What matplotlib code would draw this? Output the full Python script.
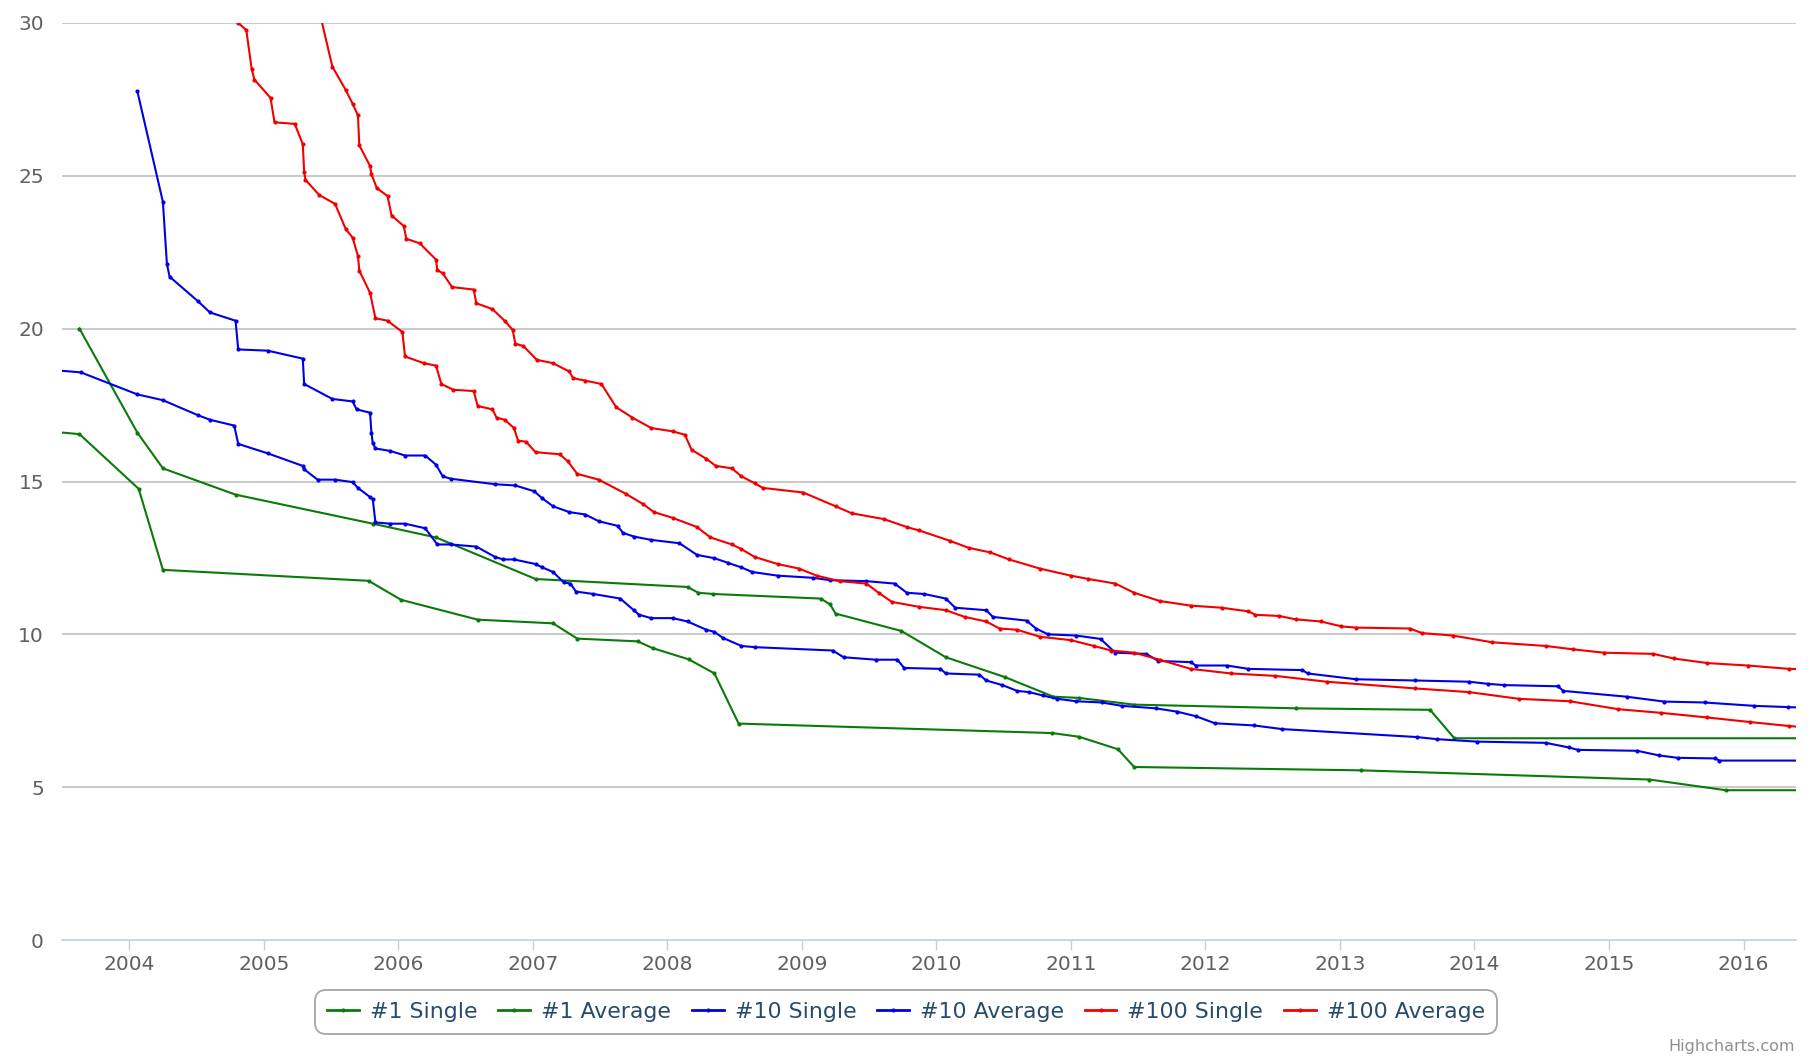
import matplotlib
matplotlib.use("Agg")
import matplotlib.pyplot as plt

# ---------------- data (decimal year, seconds) ----------------
s1_x = [2003.45, 2003.63, 2004.07, 2004.25, 2005.78, 2006.02, 2006.59, 2007.15, 2007.33,
        2007.78, 2007.89, 2008.16, 2008.35, 2008.53, 2010.86, 2011.06, 2011.35, 2011.47,
        2013.16, 2015.30, 2015.87, 2016.45]
s1_y = [16.62, 16.55, 14.76, 12.11, 11.75, 11.13, 10.48, 10.36, 9.86,
        9.77, 9.55, 9.18, 8.72, 7.08, 6.77, 6.65, 6.24, 5.66,
        5.55, 5.25, 4.90, 4.90]

a1_x = [2003.63, 2004.06, 2004.25, 2004.79, 2005.81, 2006.28, 2007.02, 2008.15, 2008.23,
        2008.34, 2009.14, 2009.21, 2009.25, 2009.74, 2010.07, 2010.51, 2010.87, 2011.06,
        2011.47, 2012.67, 2013.67, 2013.85, 2016.45]
a1_y = [20.00, 16.60, 15.43, 14.57, 13.62, 13.17, 11.81, 11.55, 11.36,
        11.32, 11.17, 10.98, 10.68, 10.11, 9.25, 8.60, 7.96, 7.92,
        7.70, 7.58, 7.53, 6.60, 6.60]

s10_x = [2003.45, 2003.64, 2004.06, 2004.25, 2004.51, 2004.60, 2004.78, 2004.81, 2005.03,
         2005.29, 2005.30, 2005.40, 2005.53, 2005.66, 2005.70, 2005.79, 2005.81, 2005.83,
         2005.94, 2006.05, 2006.20, 2006.29, 2006.39, 2006.58, 2006.72, 2006.78, 2006.86,
         2007.02, 2007.07, 2007.15, 2007.23, 2007.28, 2007.32, 2007.45, 2007.65, 2007.75,
         2007.79, 2007.88, 2008.04, 2008.15, 2008.29, 2008.35, 2008.41, 2008.55, 2008.65,
         2009.23, 2009.31, 2009.55, 2009.71, 2009.76, 2010.03, 2010.07, 2010.32, 2010.37,
         2010.49, 2010.60, 2010.69, 2010.79, 2010.90, 2011.04, 2011.23, 2011.38, 2011.63,
         2011.79, 2011.93, 2012.07, 2012.36, 2012.57, 2013.57, 2013.72, 2014.02, 2014.53,
         2014.70, 2014.77, 2015.21, 2015.37, 2015.51, 2015.79, 2015.82, 2016.45]
s10_y = [18.64, 18.57, 17.85, 17.66, 17.17, 17.02, 16.83, 16.23, 15.92,
         15.51, 15.40, 15.06, 15.06, 14.98, 14.79, 14.49, 14.42, 13.66,
         13.62, 13.62, 13.47, 12.94, 12.94, 12.87, 12.53, 12.45, 12.45,
         12.30, 12.19, 12.04, 11.70, 11.66, 11.40, 11.32, 11.17, 10.79,
         10.64, 10.53, 10.53, 10.42, 10.15, 10.08, 9.89, 9.62, 9.58,
         9.47, 9.25, 9.17, 9.17, 8.90, 8.87, 8.72, 8.68, 8.49,
         8.34, 8.15, 8.11, 8.00, 7.89, 7.81, 7.77, 7.66, 7.58,
         7.47, 7.32, 7.09, 7.02, 6.90, 6.64, 6.57, 6.49, 6.45,
         6.30, 6.22, 6.19, 6.04, 5.96, 5.94, 5.87, 5.87]

a10_x = [2004.06, 2004.25, 2004.28, 2004.30, 2004.51, 2004.60, 2004.79, 2004.81, 2005.03,
         2005.29, 2005.30, 2005.51, 2005.66, 2005.69, 2005.79, 2005.80, 2005.81, 2005.83,
         2005.94, 2006.05, 2006.20, 2006.28, 2006.33, 2006.39, 2006.72, 2006.87, 2007.01,
         2007.07, 2007.15, 2007.27, 2007.39, 2007.49, 2007.63, 2007.67, 2007.75, 2007.88,
         2008.09, 2008.22, 2008.35, 2008.45, 2008.55, 2008.63, 2008.82, 2009.08, 2009.21,
         2009.48, 2009.69, 2009.78, 2009.91, 2010.07, 2010.14, 2010.37, 2010.42, 2010.67,
         2010.74, 2010.83, 2011.04, 2011.22, 2011.33, 2011.56, 2011.65, 2011.89, 2011.93,
         2012.16, 2012.32, 2012.72, 2012.76, 2013.12, 2013.56, 2013.96, 2014.10, 2014.22,
         2014.62, 2014.66, 2015.13, 2015.41, 2015.71, 2016.08, 2016.33, 2016.45]
a10_y = [27.77, 24.15, 22.11, 21.70, 20.90, 20.53, 20.26, 19.32, 19.28,
         19.02, 18.19, 17.70, 17.62, 17.36, 17.25, 16.60, 16.26, 16.08,
         16.00, 15.85, 15.85, 15.55, 15.17, 15.09, 14.91, 14.87, 14.68,
         14.45, 14.19, 14.00, 13.92, 13.70, 13.55, 13.32, 13.20, 13.09,
         12.98, 12.60, 12.49, 12.34, 12.19, 12.04, 11.92, 11.85, 11.77,
         11.74, 11.66, 11.36, 11.32, 11.17, 10.87, 10.79, 10.57, 10.45,
         10.19, 10.00, 9.96, 9.85, 9.40, 9.36, 9.13, 9.09, 8.98,
         8.98, 8.87, 8.83, 8.72, 8.53, 8.49, 8.45, 8.38, 8.34,
         8.30, 8.15, 7.96, 7.80, 7.77, 7.66, 7.62, 7.60]

s100_x = [2004.76, 2004.81, 2004.87, 2004.91, 2004.93, 2005.05, 2005.08, 2005.23, 2005.29,
          2005.30, 2005.31, 2005.41, 2005.53, 2005.61, 2005.66, 2005.70, 2005.71, 2005.79,
          2005.83, 2005.92, 2006.03, 2006.05, 2006.19, 2006.28, 2006.32, 2006.41, 2006.56,
          2006.59, 2006.70, 2006.73, 2006.79, 2006.86, 2006.89, 2006.95, 2007.02, 2007.20,
          2007.26, 2007.33, 2007.49, 2007.69, 2007.82, 2007.90, 2008.04, 2008.22, 2008.32,
          2008.48, 2008.55, 2008.65, 2008.82, 2008.98, 2009.11, 2009.28, 2009.48, 2009.57,
          2009.67, 2009.87, 2010.07, 2010.21, 2010.37, 2010.47, 2010.60, 2010.77, 2011.00,
          2011.17, 2011.30, 2011.47, 2011.66, 2011.89, 2012.19, 2012.52, 2012.90, 2013.56,
          2013.96, 2014.33, 2014.71, 2015.07, 2015.39, 2015.73, 2016.05, 2016.34, 2016.45]
s100_y = [30.40, 30.00, 29.77, 28.50, 28.15, 27.55, 26.75, 26.70, 26.04,
          25.13, 24.87, 24.38, 24.08, 23.25, 22.98, 22.38, 21.90, 21.17,
          20.34, 20.26, 19.89, 19.09, 18.87, 18.79, 18.19, 18.00, 17.96,
          17.47, 17.36, 17.09, 17.02, 16.75, 16.34, 16.30, 15.96, 15.89,
          15.66, 15.25, 15.06, 14.60, 14.26, 14.00, 13.81, 13.51, 13.17,
          12.94, 12.79, 12.53, 12.30, 12.15, 11.92, 11.74, 11.66, 11.36,
          11.06, 10.90, 10.79, 10.57, 10.42, 10.19, 10.15, 9.92, 9.81,
          9.62, 9.47, 9.40, 9.17, 8.87, 8.72, 8.64, 8.45, 8.23,
          8.11, 7.89, 7.81, 7.55, 7.43, 7.28, 7.13, 7.00, 6.96]

a100_x = [2005.42, 2005.51, 2005.61, 2005.66, 2005.70, 2005.71, 2005.79, 2005.80, 2005.84,
          2005.92, 2005.95, 2006.04, 2006.06, 2006.16, 2006.28, 2006.29, 2006.33, 2006.40,
          2006.56, 2006.58, 2006.70, 2006.79, 2006.85, 2006.87, 2006.93, 2007.03, 2007.15,
          2007.27, 2007.30, 2007.39, 2007.51, 2007.62, 2007.74, 2007.88, 2008.04, 2008.13,
          2008.18, 2008.29, 2008.36, 2008.48, 2008.55, 2008.65, 2008.71, 2009.01, 2009.25,
          2009.37, 2009.61, 2009.78, 2009.87, 2010.10, 2010.24, 2010.40, 2010.54, 2010.77,
          2011.00, 2011.13, 2011.33, 2011.47, 2011.66, 2011.89, 2012.12, 2012.32, 2012.37,
          2012.55, 2012.67, 2012.86, 2013.01, 2013.12, 2013.52, 2013.61, 2013.84, 2014.13,
          2014.53, 2014.73, 2014.96, 2015.33, 2015.48, 2015.73, 2016.03, 2016.34, 2016.45]
a100_y = [30.25, 28.57, 27.80, 27.36, 26.98, 26.00, 25.32, 25.06, 24.60,
          24.34, 23.70, 23.36, 22.94, 22.79, 22.26, 21.92, 21.81, 21.36,
          21.28, 20.83, 20.64, 20.26, 19.96, 19.51, 19.43, 18.98, 18.87,
          18.60, 18.38, 18.30, 18.19, 17.43, 17.09, 16.75, 16.64, 16.53,
          16.04, 15.74, 15.51, 15.43, 15.17, 14.94, 14.79, 14.64, 14.19,
          13.96, 13.77, 13.51, 13.40, 13.06, 12.83, 12.68, 12.45, 12.15,
          11.92, 11.81, 11.66, 11.36, 11.09, 10.94, 10.87, 10.75, 10.64,
          10.60, 10.49, 10.42, 10.26, 10.22, 10.19, 10.04, 9.96, 9.74,
          9.62, 9.51, 9.40, 9.36, 9.21, 9.06, 8.98, 8.87, 8.86]

series_names = ["#1 Single", "#1 Average", "#10 Single", "#10 Average", "#100 Single", "#100 Average"]
series_x = [s1_x, a1_x, s10_x, a10_x, s100_x, a100_x]
series_y = [s1_y, a1_y, s10_y, a10_y, s100_y, a100_y]
series_colors = ["#0a7a0a", "#0a7a0a", "#0000e6", "#0000e6", "#f20000", "#f20000"]

years = list(range(2004, 2017))
year_labels = [str(y) for y in years]
y_ticks = [0, 5, 10, 15, 20, 25, 30]

# ---------------- figure ----------------
plt.rcParams['font.family'] = ['DejaVu Sans']
fig = plt.figure(figsize=(18.11, 10.63), dpi=100)
ax = fig.add_axes([62 / 1811, 1 - 940 / 1063, (1796 - 62) / 1811, (940 - 23) / 1063])

for x, y, c, n in zip(series_x, series_y, series_colors, series_names):
    ax.plot(x, y, color=c, lw=1.5, marker='o', ms=3.0, mew=0, label=n,
            solid_joinstyle='round', zorder=3)

ax.set_xlim(2003.50, 2016.39)
ax.set_ylim(0, 30)

ax.set_yticks(y_ticks)
ax.set_yticklabels([str(v) for v in y_ticks])
for v in y_ticks[1:]:
    ax.axhline(v, color="#c0c0c0", lw=1.2, zorder=1)

ax.set_xticks(years)
ax.set_xticklabels(year_labels)

for s in ["top", "right", "left"]:
    ax.spines[s].set_visible(False)
ax.spines["bottom"].set_color("#c0d0e0")
ax.spines["bottom"].set_linewidth(1.2)

ax.tick_params(axis='x', length=7.5, width=1.0, color="#c0d0e0", pad=3,
               labelsize=14.5, labelcolor="#606060")
ax.tick_params(axis='y', length=0, pad=13, labelsize=14.5, labelcolor="#606060")

leg = ax.legend(loc='center', bbox_to_anchor=(906 / 1811, 1 - 1012 / 1063),
                bbox_transform=fig.transFigure, ncol=6, numpoints=1,
                frameon=True, fontsize=15.8, handlelength=1.45, handletextpad=0.5,
                columnspacing=0.95, borderpad=0.55, fancybox=True)
frame = leg.get_frame()
frame.set_edgecolor("#909090")
frame.set_linewidth(1.3)
frame.set_boxstyle("round,pad=0,rounding_size=0.5")
for t in leg.get_texts():
    t.set_color("#274b6d")
for h in leg.get_lines():
    h.set_linewidth(2.0)

fig.text(1795 / 1811, 1 - 1051 / 1063, "Highcharts.com", ha='right', va='baseline',
         fontsize=11.5, color="#909090")

fig.savefig("out.png", dpi=100)
